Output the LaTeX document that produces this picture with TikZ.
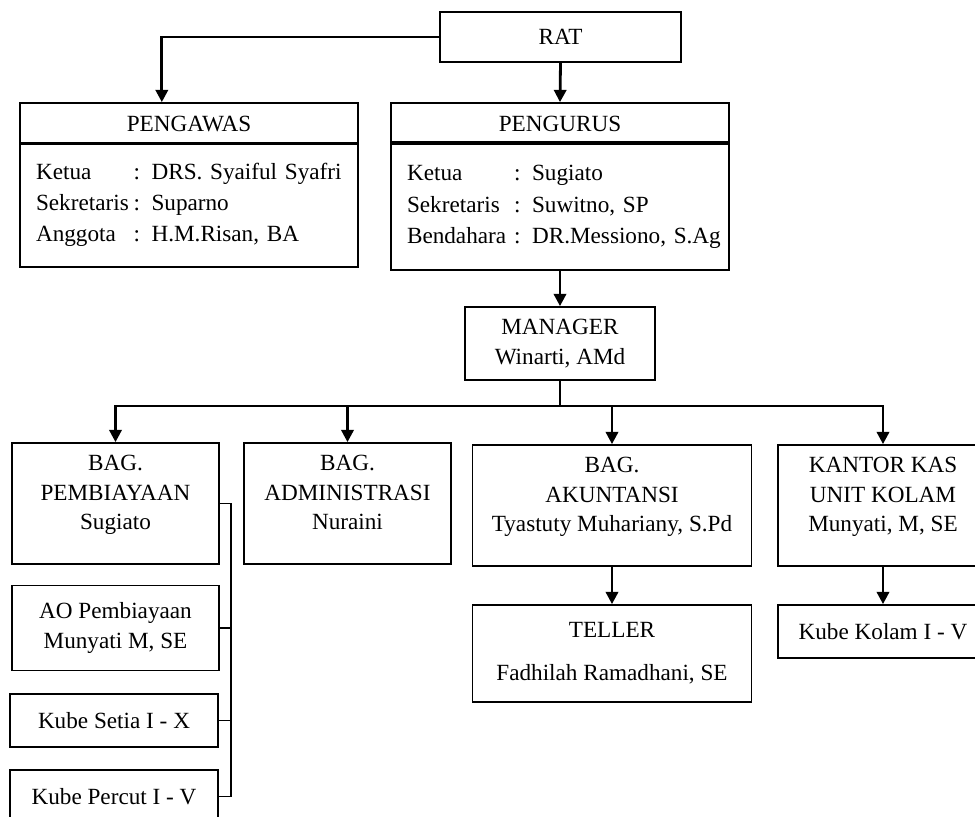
\documentclass[tikz,border=0pt]{standalone}
\usepackage{fontspec}
\setmainfont{Liberation Serif}
\usetikzlibrary{calc, arrows.meta}

\tikzset{
  kotak/.style={draw, line width=1pt, align=center, inner sep=2pt},
  isi/.style={kotak, align=left, inner xsep=0.08cm, text width=6.6cm, minimum width=6.76cm},
  panah/.style={line width=1.6pt, -{Triangle[width=7pt,length=7pt]}},
  garis/.style={line width=1.6pt},
  tipis/.style={line width=0.8pt},
}
\newcommand{\dorong}{\\[-4.4pt]\mbox{}}
\newcommand{\baris}[2]{\hspace*{0.24cm}\makebox[#1][l]{#2}}

\begin{document}
\begin{tikzpicture}[x=0.02cm, y=-0.02cm, font=\fontsize{13.2}{16.8}\selectfont]
    \path[use as bounding box, clip] (0,0) rectangle (975,816);
    % pengawas dan pengurus
    \node[kotak, minimum width=4.82cm, minimum height=1cm] (rat) at (560.5,37) {RAT};
    \node[kotak, minimum width=6.76cm, minimum height=0.82cm] (pengawas) at (189,123.5) {PENGAWAS};
    \node[isi, minimum height=2.48cm] (pengawas-isi) at (189,205) {%
        \baris{1.95cm}{Ketua}: DRS. Syaiful Syafri\\[1pt]
        \baris{1.95cm}{Sekretaris}: Suparno\\[1pt]
        \baris{1.95cm}{Anggota}: H.M.Risan, BA};
    \node[kotak, minimum width=6.76cm, minimum height=0.82cm] (pengurus) at (560,123.5) {PENGURUS};
    \node[isi, minimum height=2.52cm] (pengurus-isi) at (560,207) {%
        \baris{2.14cm}{Ketua}: Sugiato\\[1pt]
        \baris{2.14cm}{Sekretaris}: Suwitno, SP\\[1pt]
        \baris{2.14cm}{Bendahara}: DR.Messiono, S.Ag};
    \draw[line width=2pt] (pengurus-isi.north west) -- (pengurus-isi.north east);
    \node[kotak, minimum width=3.8cm, minimum height=1.46cm] (manager) at (560,343.5) {MANAGER\\Winarti, AMd};

    % bagian
    \node[kotak, minimum width=4.14cm, minimum height=2.42cm] (pemb) at (115.5,503.5) {BAG.\\PEMBIAYAAN\\Sugiato\dorong};
    \node[kotak, minimum width=4.14cm, minimum height=2.42cm] (admin) at (347.5,503.5) {BAG.\\ADMINISTRASI\\Nuraini\dorong};
    \node[kotak, minimum width=5.58cm, minimum height=2.42cm] (akun) at (612,505.5) {BAG.\\AKUNTANSI\\Tyastuty Muhariany, S.Pd\dorong};
    \node[kotak, minimum width=4.2cm, minimum height=2.42cm] (kas) at (883,505.5) {KANTOR KAS\\UNIT KOLAM\\Munyati, M, SE\dorong};
    \node[kotak, minimum width=5.58cm, minimum height=1.94cm] (teller) at (612,653.5) {TELLER\\[7.5pt]Fadhilah Ramadhani, SE};
    \node[kotak, minimum width=4.2cm, minimum height=1.06cm] (kolam) at (883,631.5) {Kube Kolam I - V};
    \node[kotak, minimum width=4.14cm, minimum height=1.7cm] (ao) at (115.5,628) {AO Pembiayaan\\Munyati M, SE};
    \node[kotak, minimum width=4.16cm, minimum height=1.06cm] (setia) at (114,720.5) {Kube Setia I - X};
    \node[kotak, minimum width=4.16cm, minimum height=1.06cm] (percut) at (114,796.5) {Kube Percut I - V};

    % garis
    \draw[panah] (rat.west) -| ($(pengawas.north west)!0.42!(pengawas.north east)$);
    \draw[panah] (rat.south) -- (pengurus.north);
    \draw[panah] (pengurus-isi.south) -- (manager.north);
    \coordinate (bus) at (560,406);
    \draw[garis] (manager.south) -- (bus);
    \foreach \t in {pemb,admin,akun,kas}{
        \draw[panah] (bus) -| (\t.north);
    }
    \draw[panah] (akun.south) -- (teller.north);
    \draw[panah] (kas.south) -- (kolam.north);
    \draw[tipis] (pemb.east) -- ++(11,0) coordinate (siku) -- (siku |- percut.east) -- (percut.east);
    \foreach \t in {ao,setia}{
        \draw[tipis] (\t.east) -- (siku |- \t.east);
    }
\end{tikzpicture}
\end{document}
